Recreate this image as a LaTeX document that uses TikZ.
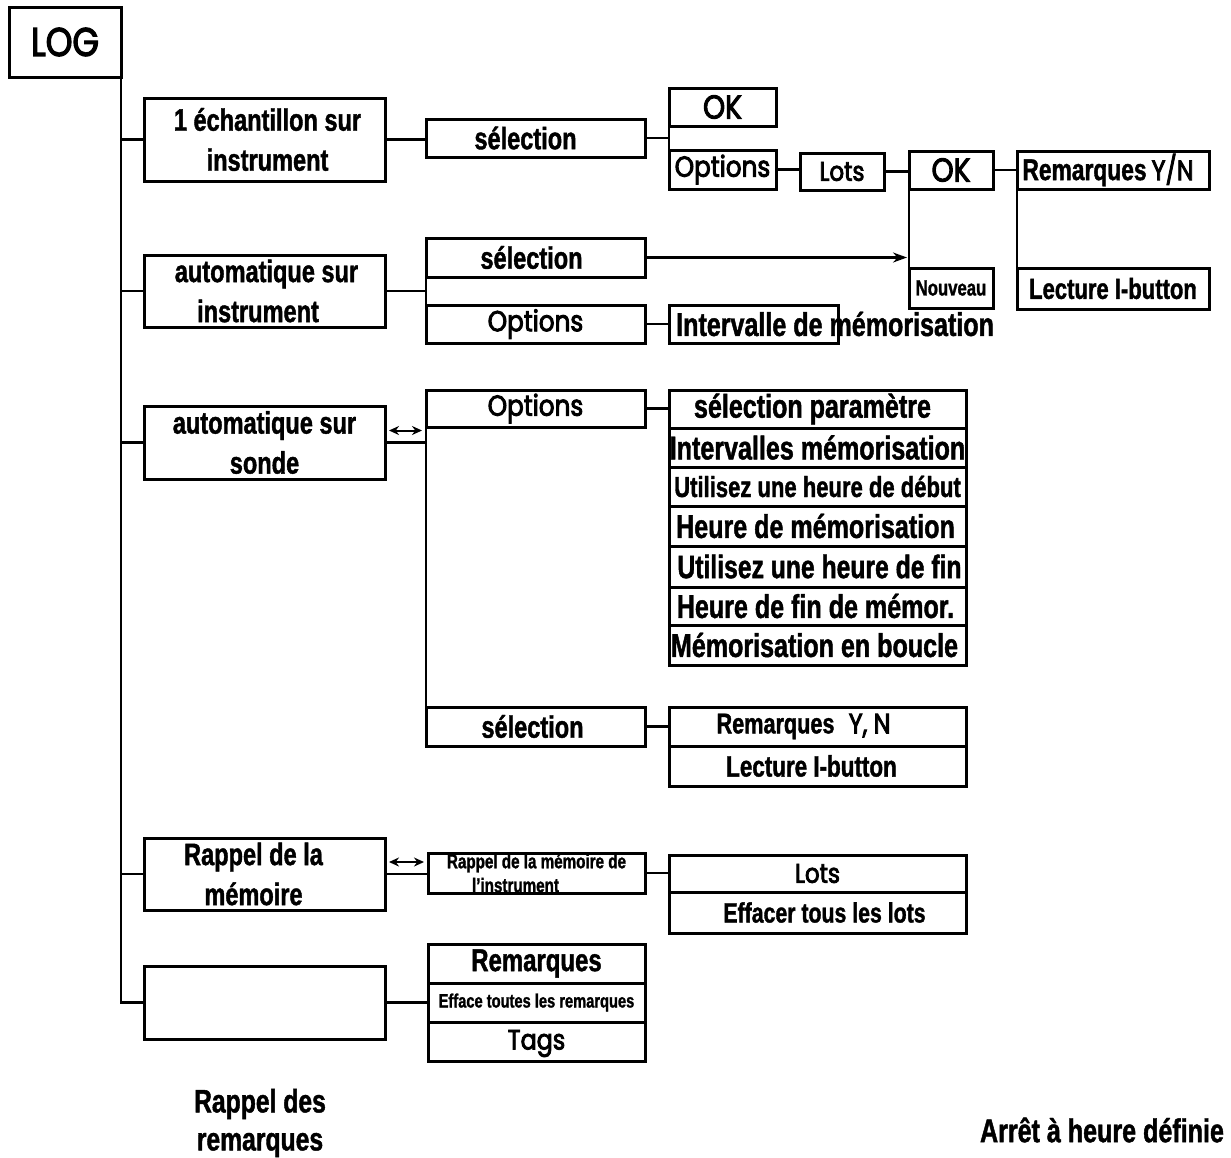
\documentclass[tikz,border=0pt]{standalone}
\usepackage{fontspec}
\setmainfont{Liberation Sans}
\newfontfamily\cnd[FakeStretch=0.76,FakeBold=1.3]{Liberation Sans}
\newfontfamily\geo[FakeStretch=0.85,FakeBold=3]{Poppins}
\usetikzlibrary{arrows.meta,calc}
\newcommand\cf[2]{\fontsize{#1}{#2}\selectfont\cnd\bfseries}
\newcommand\gf[2]{\fontsize{#1}{#2}\selectfont\geo\mdseries}
% box: [text options]{name}{x1}{y1}{x2}{y2}{text}
\newcommand\bx[7][]{%
  \node[box,minimum width={(#5)-(#3)},minimum height={(#6)-(#4)}] (#2) at ({((#3)+(#5))/2},{((#4)+(#6))/2}) {};
  \node[txt,#1] (#2-t) at (#2.center) {#7};}
\begin{document}
\begin{tikzpicture}[x=1pt,y=-1pt,
  box/.style={draw=black,line width=3pt,inner sep=0pt,outer sep=0pt},
  txt/.style={align=center,inner sep=0pt,font=\cf{31}{40}},
  conn/.style={draw=black,line width=2.2pt},
  dbl/.style={draw=black,line width=2pt,{Stealth[length=10pt,width=9pt]}-{Stealth[length=10pt,width=9pt]}},
  arr/.style={draw=black,line width=2.2pt,-{Stealth[length=14pt,width=10pt]}}]
\fill[white] (0,0) rectangle (1231,1157);
\useasboundingbox (0,0) rectangle (1231,1157);

% root
\bx[font=\gf{40}{48}]{log}{9}{7}{121}{77}{LOG}

% first-level boxes
\bx[xshift=3pt]{b1}{144}{98}{385}{181}{1 échantillon sur\\instrument}
\bx[xshift=2pt]{b2}{144}{255}{385}{327}{automatique sur\\\hspace*{-17pt}instrument}
\bx{b3}{144}{406}{385}{479}{automatique sur\\sonde}
\bx[xshift=-11pt]{b4}{144}{838}{385}{910}{Rappel de la\\mémoire}
\bx{b5}{144}{966}{385}{1039}{}

% trunk
\draw[conn] (log.south east) -- (log.south east |- b5.west) -- (b5.west);
\foreach \b in {b1,b2,b3,b4} \draw[conn] (log.south east |- \b.west) -- (\b.west);

% branch 1
\bx[xshift=-10pt]{s1}{426}{119}{645}{157}{sélection}
\bx[font=\gf{33}{40}]{ok1}{669}{88}{776}{126}{OK}
\bx[font=\gf{29}{36}]{op1}{669}{150}{776}{189}{Options}
\bx[font=\gf{27}{34}]{lots1}{800}{153}{884}{190}{Lots}
\bx[font=\gf{33}{40}]{ok2}{909}{151}{993}{189}{OK}
\bx[font=\cf{22}{28}]{nouv}{909}{268}{993}{308}{Nouveau}
\bx[font=\cf{30}{36},xshift=-5pt]{remyn}{1017}{151}{1209}{189}{Remarques\,{\gf{28}{34}Y/N}}
\bx[font=\cf{29}{36}]{lect1}{1017}{268}{1209}{309}{Lecture I-button}

\draw[conn] (b1.east) -- (b1.east -| s1.west);
\draw[conn] (s1.east) -- (s1.east -| ok1.west);
\draw[conn] (ok1.south west) -- (op1.north west);
\draw[conn] (op1.east) -- (op1.east -| lots1.west);
\draw[conn] (lots1.east) -- (lots1.east -| ok2.west);
\draw[conn] (ok2.east) -- (ok2.east -| remyn.west);
\draw[conn] (ok2.south west) -- (nouv.north west);
\draw[conn] (remyn.south west) -- (lect1.north west);

% branch 2
\bx[xshift=-4pt]{s2}{426}{238}{645}{277}{sélection}
\bx[font=\gf{29}{36}]{o2}{426}{305}{645}{343}{Options}
\node[box,minimum width=169,minimum height=38] (int) at (753.5,324) {};
\node[txt,font=\cf{33}{40},anchor=west] (int-t) at (676,324) {Intervalle de mémorisation};

\draw[conn] (b2.east) -- (b2.east -| s2.west);
\draw[conn] (s2.south west) -- (o2.north west);
\draw[arr] (s2.east) -- ($(s2.east -| ok2.west)+(-2,0)$);
\draw[conn] (o2.east) -- (o2.east -| int.west);

% branch 3
\bx[font=\gf{29}{36}]{o3}{426}{390}{645}{427}{Options}
\bx[xshift=-3pt]{s3}{426}{707}{645}{746}{sélection}
\bx[font=\cf{33}{40},xshift=-5pt]{L1}{669}{390}{966}{428}{sélection paramètre}
\bx[font=\cf{33}{40}]{L2}{669}{428}{966}{467}{Intervalles mémorisation}
\bx[font=\cf{29}{36}]{L3}{669}{467}{966}{506}{Utilisez une heure de début}
\bx[font=\cf{33}{40},xshift=-2pt]{L4}{669}{506}{966}{546}{Heure de mémorisation}
\bx[font=\cf{32.5}{40},xshift=2pt]{L5}{669}{546}{966}{587}{Utilisez une heure de fin}
\bx[font=\cf{33}{40},xshift=-2pt]{L6}{669}{587}{966}{625}{Heure de fin de mémor.}
\bx[font=\cf{33}{40},xshift=-3pt]{L7}{669}{625}{966}{665}{Mémorisation en boucle}
\bx[font=\cf{28.5}{36},xshift=-14pt]{R1}{669}{707}{966}{746}{Remarques\enspace{\gf{28}{34}Y, N}}
\bx[font=\cf{29.5}{36},xshift=-6pt]{R2}{669}{746}{966}{786}{Lecture I-button}

\draw[conn] (b3.east) -- (b3.east -| o3.west);
\draw[dbl] ($(b3.east)+(4,-12)$) -- ($(b3.east -| o3.west)+(-4,-12)$);
\draw[conn] (o3.south west) -- (s3.north west);
\draw[conn] (o3.east) -- (o3.east -| L1.west);
\draw[conn] (s3.east) -- (s3.east -| R1.west);

% branch 4
\bx[font=\cf{20}{24}]{rm}{428}{853}{645}{893}{Rappel de la mémoire de\\\hspace*{-42pt}l’instrument}
\bx[font=\gf{27}{34}]{M1}{669}{855}{966}{892}{Lots}
\bx[font=\cf{28}{36},xshift=7pt]{M2}{669}{892}{966}{933}{Effacer tous les lots}

\draw[conn] (b4.east) -- (b4.east -| rm.west);
\draw[dbl] ($(b4.east)+(4,-12)$) -- ($(b4.east -| rm.west)+(-4,-12)$);
\draw[conn] (rm.east) -- (rm.east -| M1.west);

% branch 5
\bx[font=\cf{31.5}{40}]{Q1}{428}{944}{645}{983}{Remarques}
\bx[font=\cf{19.3}{24}]{Q2}{428}{983}{645}{1022}{Efface toutes les remarques}
\bx[font=\gf{28}{34},yshift=-2pt]{Q3}{428}{1022}{645}{1061}{Tags}

\draw[conn] (b5.east) -- (b5.east -| Q2.west);

% free labels
\node[txt,font=\cf{32.5}{38}] (rdr) at (260,1123) {Rappel des\\remarques};
\node[txt,font=\cf{33}{40}] (arret) at (1102,1130) {Arrêt à heure définie};
\end{tikzpicture}
\end{document}
